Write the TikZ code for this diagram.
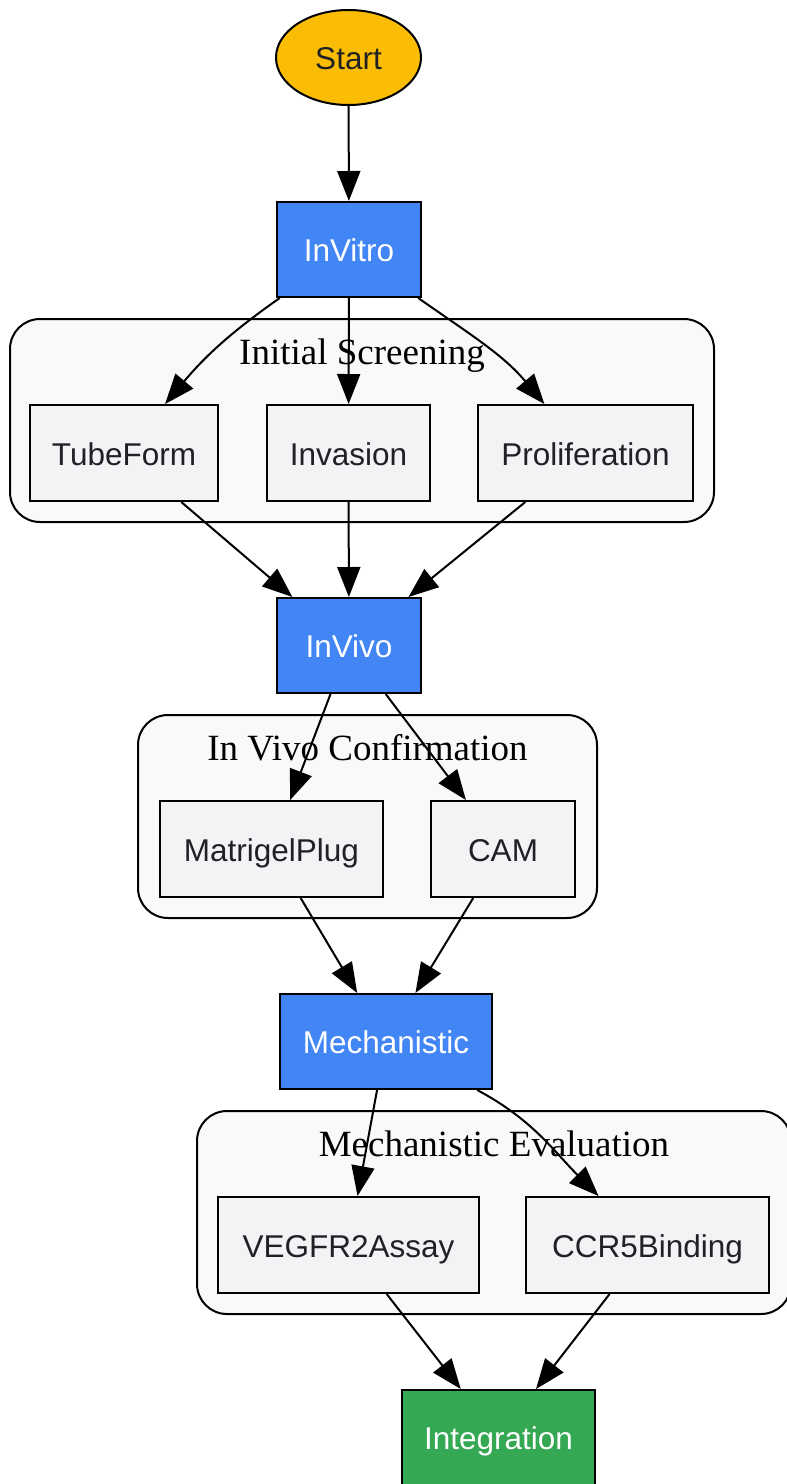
\documentclass[tikz,border=0pt]{standalone}
\usepackage{fontspec}
\setmainfont{Liberation Sans}
\newfontfamily\labelserif{Liberation Serif}
\usetikzlibrary{shapes.geometric,arrows.meta}
\definecolor{startfill}{HTML}{FBBC04}
\definecolor{bluefill}{HTML}{4285F4}
\definecolor{greenfill}{HTML}{34A853}
\definecolor{clusterfill}{HTML}{F8F9FA}
\definecolor{grayfill}{HTML}{F1F3F4}
\definecolor{darktext}{HTML}{202124}
\begin{document}
\begin{tikzpicture}[x=1pt,y=-1pt,
  base/.style={draw=black, line width=2pt, inner sep=0pt, text height=24pt, text depth=0pt, font=\fontsize{31.5}{36}\selectfont},
  startnode/.style={base, ellipse, fill=startfill, text=darktext, minimum width=145pt, minimum height=95pt},
  stagebox/.style={base, rectangle, fill=bluefill, text=white, minimum height=95pt},
  finalbox/.style={base, rectangle, fill=greenfill, text=white, minimum height=95pt},
  assaybox/.style={base, rectangle, fill=grayfill, text=darktext, minimum height=96pt},
  cluster/.style={draw=black, line width=2pt, fill=clusterfill, rounded corners=30pt},
  clusterlabel/.style={anchor=base, inner sep=0pt, font=\labelserif\fontsize{37}{42}\selectfont},
  edge/.style={line width=2pt, -{Triangle[length=30pt,width=23pt]}}
]
\clip (0,0) rectangle (787,1484);
\fill[white] (0,0) rectangle (787,1484);

% clusters
\draw[cluster] (10,319) rectangle (714,522);
\node[clusterlabel] (lblA) at (362,364) {Initial Screening};
\draw[cluster] (138,715) rectangle (597,918);
\node[clusterlabel] (lblB) at (367.5,760) {In Vivo Confirmation};
\draw[cluster] (197,1111) rectangle (791,1314);
\node[clusterlabel] (lblC) at (494,1156) {Mechanistic Evaluation};

% nodes
\node[startnode] (Start) at (348.5,57.5) {Start};
\node[stagebox, minimum width=144pt] (InVitro) at (349,249.5) {InVitro};
\node[assaybox, minimum width=188pt] (TubeForm) at (124,453) {TubeForm};
\node[assaybox, minimum width=163pt] (Invasion) at (348.5,453) {Invasion};
\node[assaybox, minimum width=215pt] (Proliferation) at (585.5,453) {Proliferation};
\node[stagebox, minimum width=144pt] (InVivo) at (349,645.5) {InVivo};
\node[assaybox, minimum width=223pt] (MatrigelPlug) at (271.5,849) {MatrigelPlug};
\node[assaybox, minimum width=144pt] (CAM) at (503,849) {CAM};
\node[stagebox, minimum width=212pt] (Mechanistic) at (386,1041.5) {Mechanistic};
\node[assaybox, minimum width=261pt] (VEGFR2Assay) at (348.5,1245) {VEGFR2Assay};
\node[assaybox, minimum width=243pt] (CCR5Binding) at (647.5,1245) {CCR5Binding};
\node[finalbox, minimum width=193pt] (Integration) at (498.5,1437.5) {Integration};

% edges
\draw[edge] (Start) -- (InVitro);
\draw[edge] (InVitro) to[out=215,in=50] (TubeForm);
\draw[edge] (InVitro) -- (Invasion);
\draw[edge] (InVitro) to[out=-35,in=130] (Proliferation);
\draw[edge] (TubeForm) -- (InVivo);
\draw[edge] (Invasion) -- (InVivo);
\draw[edge] (Proliferation) -- (InVivo);
\draw[edge] (InVivo) -- (MatrigelPlug);
\draw[edge] (InVivo) -- (CAM);
\draw[edge] (MatrigelPlug) -- (Mechanistic);
\draw[edge] (CAM) -- (Mechanistic);
\draw[edge] (Mechanistic) -- (VEGFR2Assay);
\draw[edge] (Mechanistic) to[out=-28,in=135] (CCR5Binding);
\draw[edge] (VEGFR2Assay) -- (Integration);
\draw[edge] (CCR5Binding) -- (Integration);
\end{tikzpicture}
\end{document}
